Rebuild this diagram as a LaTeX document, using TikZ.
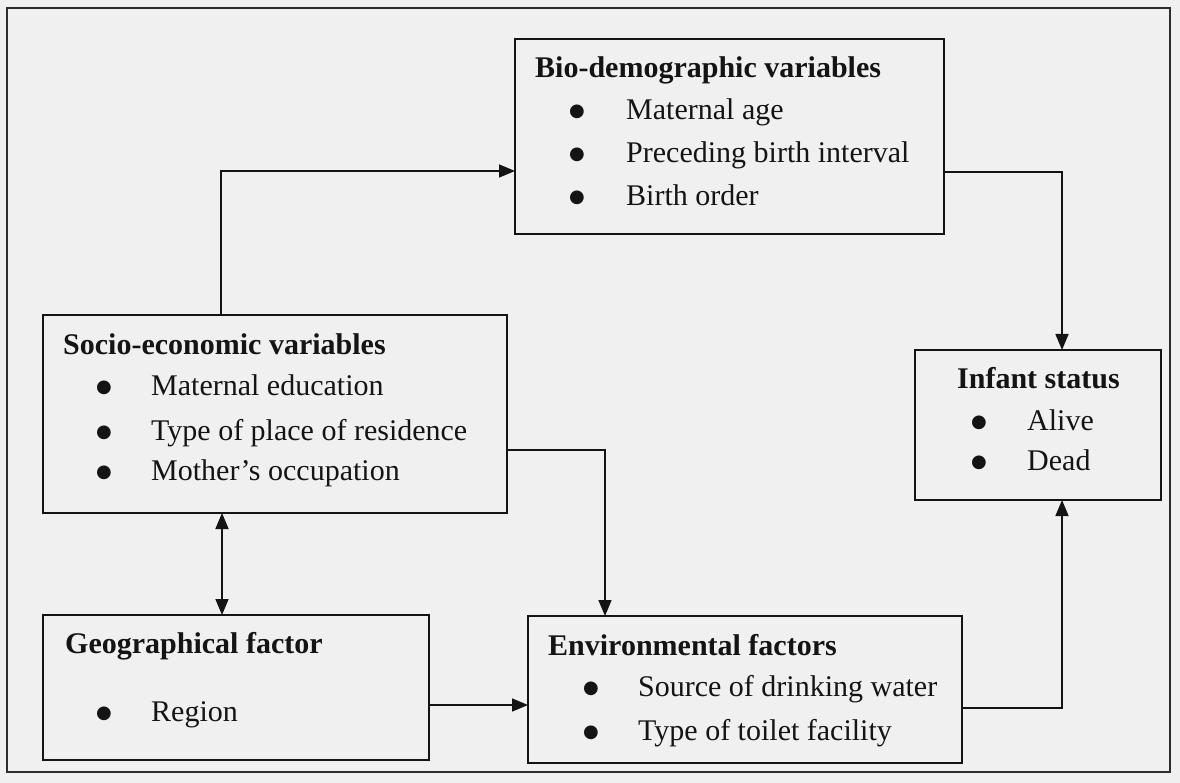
\documentclass[tikz,border=0pt]{standalone}
\usepackage{fontspec}
\setmainfont{Liberation Serif}
\newfontfamily\symfont{DejaVu Sans}
\usetikzlibrary{arrows.meta}
\definecolor{bgc}{RGB}{240,240,240}
\definecolor{ink}{RGB}{20,20,20}
\definecolor{framec}{RGB}{45,45,45}
\newcommand{\myitem}[2]{\makebox[#1][l]{\raisebox{3pt}{\symfont\fontsize{18}{18}\selectfont ●}}#2}
\begin{document}
\begin{tikzpicture}[x=1pt,y=-1pt,
  box/.style={draw=ink, line width=1.9pt, anchor=north west, inner sep=0pt, outer sep=0pt},
  ttl/.style={anchor=base west, inner sep=0pt, font=\fontsize{30}{36}\selectfont\bfseries, text=ink},
  itm/.style={anchor=base west, inner sep=0pt, font=\fontsize{30}{36}\selectfont, text=ink},
  arr/.style={draw=ink, line width=1.6pt, -{Triangle[length=16pt,width=13pt]}},
  darr/.style={draw=ink, line width=1.6pt, {Triangle[length=16pt,width=13pt]}-{Triangle[length=16pt,width=13pt]}}
]
\fill[bgc] (0,0) rectangle (1180,783);
\useasboundingbox (0,0) rectangle (1180,783);
\draw[framec, line width=2pt] (7,8) rectangle (1170,772);

% boxes
\node[box, minimum width=429pt, minimum height=195pt] (bio) at (515,39) {};
\node[box, minimum width=464pt, minimum height=198pt] (socio) at (43,315) {};
\node[box, minimum width=386pt, minimum height=145pt] (geo) at (43,615) {};
\node[box, minimum width=434pt, minimum height=147pt] (env) at (528,616) {};
\node[box, minimum width=246pt, minimum height=150pt] (infant) at (915,350) {};

% texts
\node[ttl] (biot) at (535,78) {Bio-demographic variables};
\node[itm] (bio1) at (569,120) {\myitem{57pt}{Maternal age}};
\node[itm] (bio2) at (569,163) {\myitem{57pt}{Preceding birth interval}};
\node[itm] (bio3) at (569,206) {\myitem{57pt}{Birth order}};

\node[ttl] (sociot) at (63,355) {Socio-economic variables};
\node[itm] (socio1) at (96,395) {\myitem{55pt}{Maternal education}};
\node[itm] (socio2) at (96,440) {\myitem{55pt}{Type of place of residence}};
\node[itm] (socio3) at (96,480) {\myitem{55pt}{Mother’s occupation}};

\node[ttl] (geot) at (65,653) {Geographical factor};
\node[itm] (geo1) at (96,721) {\myitem{55pt}{Region}};

\node[ttl] (envt) at (548,655) {Environmental factors};
\node[itm] (env1) at (583,696) {\myitem{55pt}{Source of drinking water}};
\node[itm] (env2) at (583,740) {\myitem{55pt}{Type of toilet facility}};

\node[ttl] (infantt) at (957,388) {Infant status};
\node[itm] (infant1) at (971,430) {\myitem{56pt}{Alive}};
\node[itm] (infant2) at (971,470) {\myitem{56pt}{Dead}};

% bend points
\coordinate (k1) at (221,171);
\coordinate (k2) at (1062,172);
\coordinate (k3) at (605,450);
\coordinate (k4) at (480,705);
\coordinate (k5) at (1062,708);
\coordinate (k6) at (222,560);

% connectors
\draw[arr] (socio.north -| k1) -- (k1) -- (bio.west |- k1);
\draw[arr] (bio.east |- k2) -- (k2) -- (infant.north -| k2);
\draw[arr] (socio.east |- k3) -- (k3) -- (env.north -| k3);
\draw[arr] (geo.east |- k4) -- (env.west |- k4);
\draw[arr] (env.east |- k5) -- (k5) -- (infant.south -| k5);
\draw[darr] (socio.south -| k6) -- (geo.north -| k6);
\end{tikzpicture}
\end{document}
